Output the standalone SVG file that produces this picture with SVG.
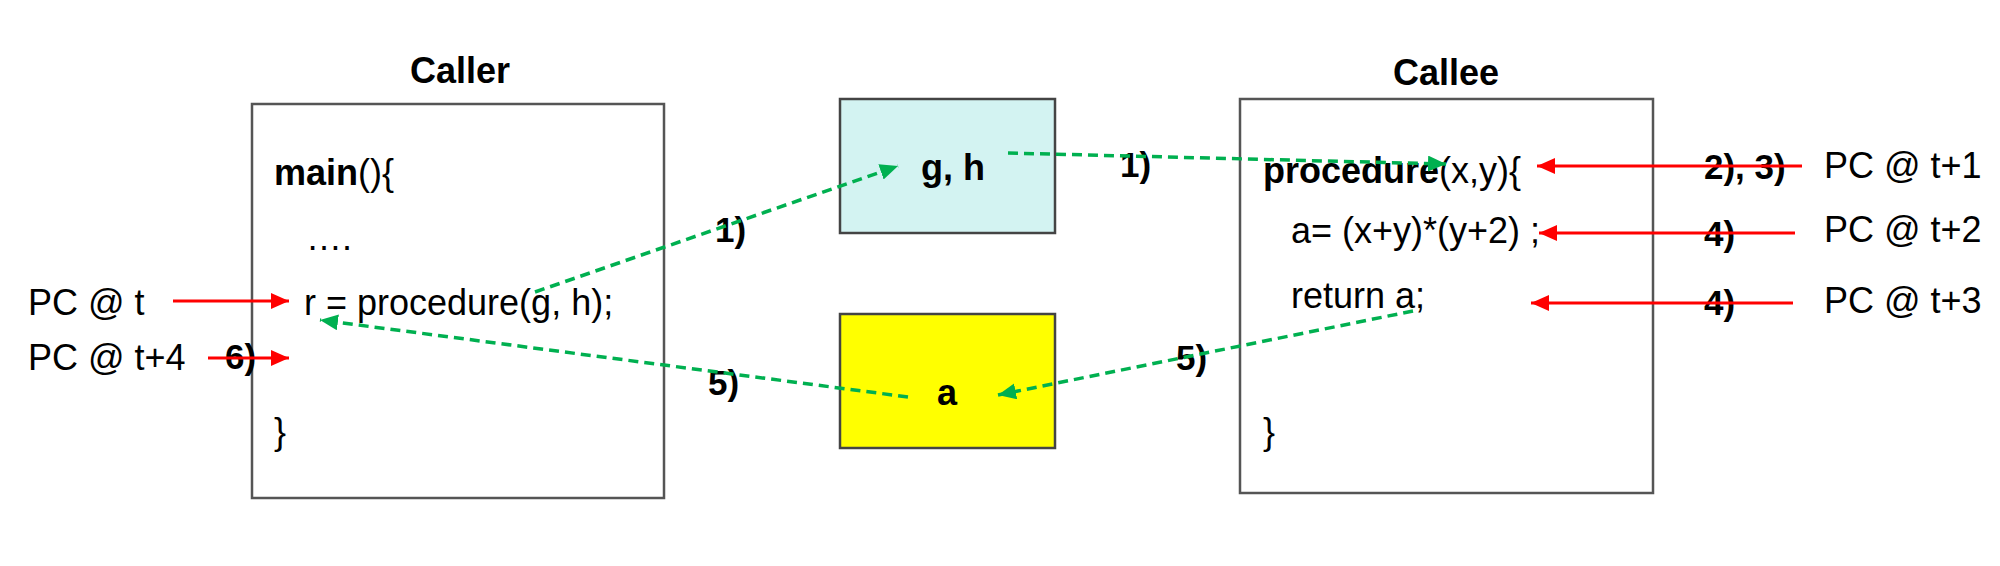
<svg xmlns="http://www.w3.org/2000/svg" width="2000" height="566" viewBox="0 0 2000 566">
<style>
text{font-family:"Liberation Sans",Arial,sans-serif;font-size:36px;fill:#000}
.b{font-weight:bold}
.lbl{font-weight:bold;font-size:35px}
.box{fill:#fff;stroke:#555;stroke-width:2.5}
.red{stroke:#ff0000;stroke-width:3;fill:none}
.grn{stroke:#00b050;stroke-width:3.5;fill:none;stroke-dasharray:10 6}
</style>
<defs>
<marker id="ar" markerUnits="userSpaceOnUse" markerWidth="20" markerHeight="18" refX="18" refY="8" orient="auto">
<path d="M0,0 L18,8 L0,16 z" fill="#ff0000"/>
</marker>
<marker id="ag" markerUnits="userSpaceOnUse" markerWidth="20" markerHeight="18" refX="18" refY="8" orient="auto">
<path d="M0,0 L18,8 L0,16 z" fill="#00b050"/>
</marker>
</defs>
<rect width="2000" height="566" fill="#fff"/>

<g id="caller">
<text x="460" y="83" class="b" text-anchor="middle">Caller</text>
<rect class="box" x="252" y="104" width="412" height="394"/>
<text x="274" y="185"><tspan class="b">main</tspan>(){</text>
<text x="306" y="250">….</text>
<text x="304" y="315">r = procedure(g, h);</text>
<text x="274" y="444">}</text>
</g>

<g id="args">
<rect x="840" y="99" width="215" height="134" fill="#d3f3f2" stroke="#444" stroke-width="2.5"/>
<text x="953" y="180" class="b" text-anchor="middle">g, h</text>
</g>

<g id="ret">
<rect x="840" y="314" width="215" height="134" fill="#ffff00" stroke="#444" stroke-width="2.5"/>
<text x="947" y="405" class="b" text-anchor="middle">a</text>
</g>

<g id="callee">
<text x="1446" y="85" class="b" text-anchor="middle">Callee</text>
<rect class="box" x="1240" y="99" width="413" height="394"/>
<text x="1263" y="183"><tspan class="b">procedure</tspan>(x,y){</text>
<text x="1291" y="243">a= (x+y)*(y+2) ;</text>
<text x="1291" y="308">return a;</text>
<text x="1263" y="444">}</text>
</g>

<g id="pcs">
<text x="28" y="315">PC @ t</text>
<text x="28" y="370">PC @ t+4</text>
<text x="1824" y="178">PC @ t+1</text>
<text x="1824" y="242">PC @ t+2</text>
<text x="1824" y="313">PC @ t+3</text>
</g>

<g id="labels">
<text x="225" y="369" class="lbl">6)</text>
<text x="715" y="242" class="lbl">1)</text>
<text x="1120" y="177" class="lbl">1)</text>
<text x="708" y="395" class="lbl">5)</text>
<text x="1176" y="370" class="lbl">5)</text>
<text x="1704" y="179" class="lbl">2), 3)</text>
<text x="1704" y="246" class="lbl">4)</text>
<text x="1704" y="315" class="lbl">4)</text>
</g>

<g id="connectors">
<line class="red" x1="173" y1="301" x2="289" y2="301" marker-end="url(#ar)"/>
<line class="red" x1="208" y1="358" x2="289" y2="358" marker-end="url(#ar)"/>
<line class="red" x1="1802" y1="166" x2="1537" y2="166" marker-end="url(#ar)"/>
<line class="red" x1="1795" y1="233" x2="1539" y2="233" marker-end="url(#ar)"/>
<line class="red" x1="1793" y1="303" x2="1531" y2="303" marker-end="url(#ar)"/>
<line class="grn" x1="535" y1="292" x2="898" y2="166" marker-end="url(#ag)"/>
<line class="grn" x1="1008" y1="153" x2="1446" y2="164" marker-end="url(#ag)"/>
<line class="grn" x1="1413" y1="311" x2="998" y2="395" marker-end="url(#ag)"/>
<line class="grn" x1="908" y1="397" x2="320" y2="320" marker-end="url(#ag)"/>
</g>
</svg>
